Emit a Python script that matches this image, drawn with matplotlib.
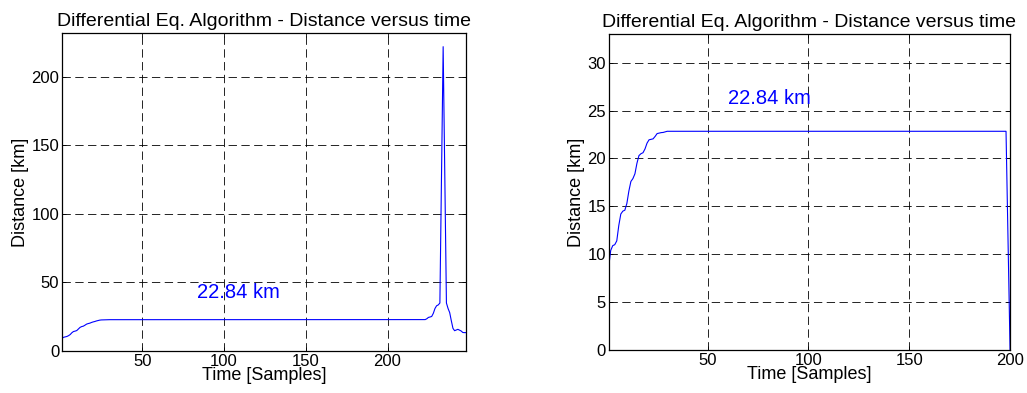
import matplotlib
matplotlib.use("Agg")
import matplotlib.pyplot as plt
import numpy as np

plt.rcParams['font.family'] = ['Liberation Sans', 'DejaVu Sans']
plt.rcParams['lines.scale_dashes'] = False

# ---- data -------------------------------------------------------------
final_km = 22.84

# run 1 (248 samples): convergence, long plateau, spike near the end
run1_rise = [9.3, 10.0, 10.3, 10.6, 11.2, 12.0, 13.3, 14.2, 14.5, 14.9,
             16.0, 17.2, 17.8, 18.1, 18.8, 19.6, 20.0, 20.3, 20.8, 21.2,
             21.5, 21.9, 22.2, 22.5, 22.65, 22.7, 22.75, 22.8, 22.82]
run1_plateau_len = 193
run1_tail = [22.9, 23.5, 24.5, 24.8, 25.2, 27.5, 31.0, 33.0, 33.6, 35.0,
             128.0, 222.0, 128.0, 35.0, 31.0, 28.0, 22.0, 16.5, 14.8, 15.3,
             15.8, 15.2, 14.6, 13.5, 13.4, 13.4]

# run 2 (200 samples): convergence, plateau, drop to zero
run2_rise = [8.7, 10.4, 10.9, 11.0, 11.4, 13.0, 14.2, 14.5, 14.6, 15.3,
             16.6, 17.6, 17.9, 18.4, 19.5, 20.3, 20.5, 20.6, 21.0, 21.6,
             21.95, 22.0, 22.05, 22.3, 22.6, 22.65, 22.7, 22.72, 22.78]
run2_plateau_len = 169
run2_tail = [11.4, 0.0]

run1 = np.array(run1_rise + [final_km] * run1_plateau_len + run1_tail)
run2 = np.array(run2_rise + [final_km] * run2_plateau_len + run2_tail)

title = "Differential Eq. Algorithm - Distance versus time"
xlabel = "Time [Samples]"
ylabel = "Distance [km]"
label_text = f"{final_km:.2f} km"

x_ticks = [50, 100, 150, 200]
run1_yticks = [0, 50, 100, 150, 200]
run2_yticks = [0, 5, 10, 15, 20, 25, 30]

# ---- figure -----------------------------------------------------------
fig = plt.figure(figsize=(10.27, 3.93), dpi=100)
ax1 = fig.add_axes([0.0604, 0.1069, 0.3934, 0.8092])
ax2 = fig.add_axes([0.5927, 0.1094, 0.3908, 0.8041])

blue = (0, 0, 1)


def style(ax, yticks, xlim, ylim):
    ax.set_xlim(*xlim)
    ax.set_ylim(*ylim)
    ax.set_xticks(x_ticks)
    ax.set_yticks(yticks)
    ax.grid(True, color='black', linestyle=(0, (6, 3.2)), linewidth=0.6)
    ax.tick_params(direction='in', length=3, width=0.6, top=True,
                   right=True, labelsize=12, pad=2.0, colors='black')
    for s in ax.spines.values():
        s.set_linewidth(0.9)
        s.set_color('black')
    ax.set_title(title, fontsize=14, pad=5)
    ax.set_xlabel(xlabel, fontsize=13, labelpad=-1)
    ax.set_ylabel(ylabel, fontsize=13, labelpad=2)


t1 = np.arange(1, len(run1) + 1)
ax1.plot(t1, run1, color=blue, linewidth=0.8)
style(ax1, run1_yticks, (1, len(run1)), (0, 232))
ax1.text(83.5, 39, label_text, color=blue, fontsize=14.5, va='baseline')

t2 = np.arange(1, len(run2) + 1)
ax2.plot(t2, run2, color=blue, linewidth=0.8)
style(ax2, run2_yticks, (1, len(run2)), (0, 33))
ax2.text(60, 25.7, label_text, color=blue, fontsize=14.5, va='baseline')

fig.savefig("out.png", dpi=100)
